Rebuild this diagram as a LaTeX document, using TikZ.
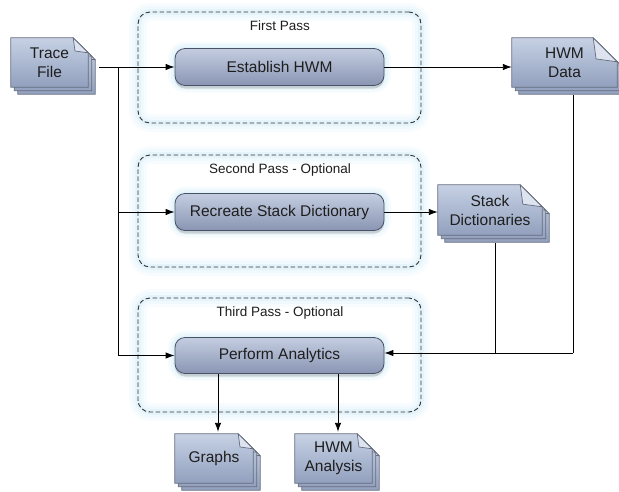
\documentclass[tikz,border=0pt]{standalone}
\usepackage{fontspec}
\setmainfont{Liberation Sans}
\usetikzlibrary{calc,backgrounds,shadows,arrows.meta}

\definecolor{txt}{HTML}{1E1E1E}
\definecolor{doctop}{HTML}{C6D1E4}
\definecolor{docbot}{HTML}{92A0BE}
\definecolor{boxtop}{HTML}{C4CDE0}
\definecolor{boxbot}{HTML}{8995B3}
\definecolor{edgec}{HTML}{4A5266}
\definecolor{glow}{HTML}{C4E6F6}

\tikzset{
  docpage/.style={draw=edgec!85, line width=0.8pt, top color=doctop, bottom color=docbot},
  docfold/.style={draw=edgec!85, line width=0.7pt, fill=doctop!60!white},
  docnode/.style={inner sep=0pt, text=txt, align=center, font=\fontsize{15.5}{19}\selectfont},
  procbox/.style={rounded corners=10pt, draw=edgec, line width=0.8pt,
    top color=boxtop, bottom color=boxbot, text=txt, inner sep=0pt,
    font=\fontsize{15.5}{18}\selectfont,
    minimum width=209pt, minimum height=37pt,
    preaction={draw=glow, line width=14pt, opacity=0.15, solid},
    preaction={draw=glow, line width=9pt, opacity=0.2, solid},
    preaction={draw=glow, line width=4pt, opacity=0.3, solid},
    drop shadow={shadow xshift=0pt, shadow yshift=-3pt, opacity=0.3}},
  passbox/.style={rounded corners=12pt, draw=black!80, line width=0.9pt,
    dash pattern=on 4.5pt off 2.5pt, inner sep=0pt, minimum width=283pt,
    preaction={draw=glow, line width=18pt, opacity=0.12, solid},
    preaction={draw=glow, line width=12pt, opacity=0.15, solid},
    preaction={draw=glow, line width=6pt, opacity=0.25, solid}},
  passlabel/.style={text=txt, font=\fontsize{13.5}{16}\selectfont, inner sep=1pt},
  conn/.style={line width=0.9pt, draw=black},
  arr/.style={conn, -{Latex[length=9pt,width=6.5pt]}}
}

\newcommand\docshape[2]{%
  \begin{scope}[on background layer]
  \foreach \d in {7pt,3.5pt,0pt}{
    \path[docpage] let \p1=(#1.north west), \p2=(#1.south east) in
      (\x1+\d,\y1-\d) -- (\x2-#2+\d,\y1-\d) -- (\x2+\d,\y1-#2-\d) --
      (\x2+\d,\y2-\d) -- (\x1+\d,\y2-\d) -- cycle;
    \path[docfold] let \p1=(#1.north west), \p2=(#1.south east) in
      (\x2-#2+\d,\y1-\d) -- (\x2-#2+\d+0.12*#2,\y1-\d-0.88*#2) --
      (\x2+\d,\y1-#2-\d) -- cycle;
  }
  \end{scope}}

\begin{document}
\begin{tikzpicture}[x=1pt,y=-1pt]
\useasboundingbox (0,0) rectangle (619,491);

% pass boxes
\node[passbox, minimum height=111pt] (p1) at (279.5,67.5) {};
\node[passbox, minimum height=112pt] (p2) at (279.5,211) {};
\node[passbox, minimum height=114pt] (p3) at (279.5,355) {};
\node[passlabel] (l1) at (280,26) {First Pass};
\node[passlabel] (l2) at (280,170) {Second Pass - Optional};
\node[passlabel] (l3) at (280,313) {Third Pass - Optional};

% process boxes
\node[procbox] (est) at (279.5,67) {Establish HWM};
\node[procbox] (rsd) at (279.5,212) {Recreate Stack Dictionary};
\node[procbox, minimum height=36pt] (pa) at (279.5,355.5) {Perform Analytics};

% documents
\node[docnode, minimum width=77pt, minimum height=49pt] (trace) at (49.5,62.5) {Trace\\File};
\node[docnode, minimum width=105pt, minimum height=49pt] (hwm) at (564.5,62.5) {HWM\\Data};
\node[docnode, minimum width=104pt, minimum height=50pt] (sd) at (490,210) {Stack\\Dictionaries};
\node[docnode, minimum width=78pt, minimum height=49pt] (graphs) at (214,458.5) {Graphs};
\node[docnode, minimum width=77pt, minimum height=49pt] (hwma) at (333.5,458.5) {HWM\\Analysis};
\docshape{trace}{15pt}
\docshape{hwm}{24pt}
\docshape{sd}{22pt}
\docshape{graphs}{15pt}
\docshape{hwma}{15pt}

% junction coordinates
\coordinate (j1) at (118,67);
\coordinate (j3) at (118,355.5);
\coordinate (k1) at (573,95);
\coordinate (k3) at (573,353);
\coordinate (m1) at (495,243);
\coordinate (m3) at (495,353);

% connectors
\draw[conn] ([xshift=11pt]trace.east |- est.west) -- (j1);
\draw[arr] (j1) -- (est.west);
\draw[conn] (j1) -- (j3);
\draw[arr] (j1 |- rsd.west) -- (rsd.west);
\draw[arr] (j3) -- (pa.west);
\draw[arr] (est.east) -- (est.east -| hwm.west);
\draw[arr] (rsd.east) -- (rsd.east -| sd.west);
\draw[conn] (k1) -- (k3);
\draw[conn] (m1) -- (m3);
\draw[arr] (k3) -- (pa.east |- k3);
\draw[arr] ([xshift=4pt]graphs.north |- pa.south) -- ([xshift=4pt,yshift=2pt]graphs.north);
\draw[arr] ([xshift=4.5pt]hwma.north |- pa.south) -- ([xshift=4.5pt,yshift=2pt]hwma.north);
\end{tikzpicture}
\end{document}
